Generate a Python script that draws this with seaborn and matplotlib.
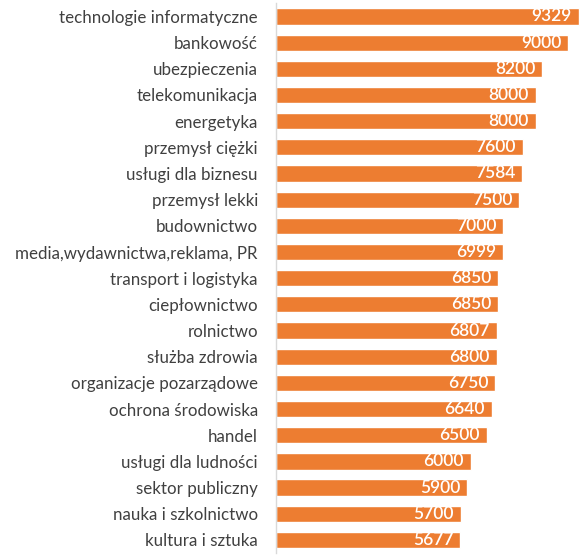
import matplotlib
matplotlib.use("Agg")
import matplotlib.pyplot as plt
import seaborn as sns
import pandas as pd

categories = [
    "technologie informatyczne", "bankowość", "ubezpieczenia", "telekomunikacja",
    "energetyka", "przemysł ciężki", "usługi dla biznesu", "przemysł lekki",
    "budownictwo", "media,wydawnictwa,reklama, PR", "transport i logistyka",
    "ciepłownictwo", "rolnictwo", "służba zdrowia", "organizacje pozarządowe",
    "ochrona środowiska", "handel", "usługi dla ludności", "sektor publiczny",
    "nauka i szkolnictwo", "kultura i sztuka",
]
values = [9329, 9000, 8200, 8000, 8000, 7600, 7584, 7500, 7000, 6999, 6850,
          6850, 6807, 6800, 6750, 6640, 6500, 6000, 5900, 5700, 5677]

df = pd.DataFrame({"branza": categories, "wartosc": values})

sns.set_theme(style="white")
plt.rcParams["font.family"] = ["Lato", "DejaVu Sans"]

fig = plt.figure(figsize=(5.84, 5.60), dpi=100)
ax = fig.add_axes([0.4726, 0.0125, 0.5224, 0.9815])

sns.barplot(data=df, x="wartosc", y="branza", orient="h", color="#ED7D31",
            saturation=1, width=0.62, ax=ax)

for i, v in enumerate(df["wartosc"]):
    ax.annotate(str(v), xy=(v, i), xytext=(-5, 0), textcoords="offset points",
                ha="right", va="center", color="white",
                fontsize=12.5, fontweight="semibold")

ax.set_xlim(0, 9400)
ax.set_ylim(20.5, -0.5)
ax.set_xlabel("")
ax.set_ylabel("")
ax.set_xticks([])
for s in ["top", "right", "bottom"]:
    ax.spines[s].set_visible(False)
ax.spines["left"].set_color("#D9D9D9")
ax.spines["left"].set_linewidth(1)
ax.tick_params(axis="y", length=0, pad=13, labelsize=12.2, labelcolor="#404040")

fig.savefig("out.png", dpi=100)
